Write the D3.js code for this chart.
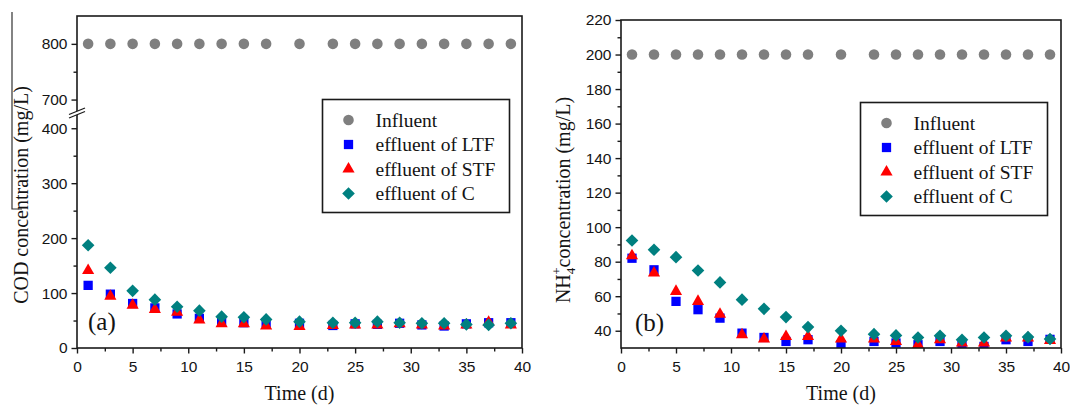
<!DOCTYPE html>
<html lang="en">
<head>
<meta charset="UTF-8">
<title>COD and NH4+ concentration over time</title>
<script src="https://d3js.org/d3.v7.min.js"></script>
<style>
    body { margin: 0; background: #fff; }
    svg text { fill: #141414; }
    .serif { font-family: "Liberation Serif", "Times New Roman", serif; }
</style>
</head>
<body>
<div id="chart"></div>
<script>
    // sampling days (same for both panels)
    const days = [1, 3, 5, 7, 9, 11, 13, 15, 17, 20, 23, 25, 27, 29, 31, 33, 35, 37, 39];

    // (a) COD concentration, mg/L
    const codInfluent = [800, 800, 800, 800, 800, 800, 800, 800, 800, 800, 800, 800, 800, 800, 800, 800, 800, 800, 800];
    const codLTF = [114, 98, 81, 73, 62, 54, 48, 46, 46, 45, 41, 44, 43, 45, 42, 40, 44, 46, 46];
    const codSTF = [141, 94, 78, 70, 65, 51, 44, 44, 40, 39, 41, 42, 42, 44, 42, 40, 42, 47, 42];
    const codC = [187, 146, 104, 88, 75, 68, 57, 56, 52, 48, 46, 46, 48, 46, 45, 45, 43, 42, 45];

    // (b) NH4+ concentration, mg/L
    const nhInfluent = [200, 200, 200, 200, 200, 200, 200, 200, 200, 200, 200, 200, 200, 200, 200, 200, 200, 200, 200];
    const nhLTF = [82, 75.3, 57, 52.2, 47.3, 38.6, 36.1, 33.8, 34.8, 31.9, 33.8, 32.9, 31.9, 33.8, 31.9, 30.9, 34.8, 33.8, 35];
    const nhSTF = [83.4, 73.4, 62.8, 57, 49.6, 37.7, 35.2, 36.7, 36.7, 35.2, 35.2, 33.8, 31.9, 34.8, 32.9, 32.9, 35.8, 35.8, 34.4];
    const nhC = [92.3, 86.9, 82.6, 74.9, 68, 58, 52.7, 47.9, 42.1, 40, 38, 37.3, 36.1, 37.1, 34.8, 36.1, 37.1, 36.3, 35.2];

    const seriesNames = ["Influent", "effluent of LTF", "effluent of STF", "effluent of C"];
    const seriesColors = ["#7f7f7f", "#0000ff", "#ff0000", "#008080"];
    const seriesShapes = ["circle", "square", "triangle", "diamond"];

    const xTicks = [0, 5, 10, 15, 20, 25, 30, 35, 40];
    const xMinor = [2.5, 7.5, 12.5, 17.5, 22.5, 27.5, 32.5, 37.5];
    const codTicksLow = [0, 100, 200, 300, 400];
    const codMinorLow = [50, 150, 250, 350];
    const codTicksHigh = [700, 800];
    const codMinorHigh = [750];
    const nhTicks = [40, 60, 80, 100, 120, 140, 160, 180, 200, 220];
    const nhMinor = [50, 70, 90, 110, 130, 150, 170, 190, 210];

    const W = 1070, H = 405;
    const ink = "#1a1a1a";
    const svg = d3.select("#chart").append("svg")
        .attr("width", W)
        .attr("height", H);

    function markerPath(shape) {
        if (shape === "circle") return d3.symbol(d3.symbolCircle, 88)();
        if (shape === "square") return d3.symbol(d3.symbolSquare, 86)();
        if (shape === "triangle") return d3.symbol(d3.symbolTriangle, 64)();
        return d3.symbol(d3.symbolSquare, 80)(); // rotated below -> diamond
    }

    function markerTransform(shape, x, y) {
        return shape === "diamond" ? `translate(${x},${y}) rotate(45)` : `translate(${x},${y})`;
    }

    function styleAxis(g) {
        g.select(".domain").remove();
        g.attr("font-family", "'Liberation Sans', Arial, sans-serif")
            .attr("font-size", 15.5);
        g.selectAll(".tick line").attr("stroke", ink).attr("stroke-width", 1.4);
        g.selectAll(".tick text").attr("fill", ink);
    }

    function drawSeries(g, xScale, yFn, seriesValues) {
        seriesValues.forEach((vals, i) => {
            g.append("g")
                .selectAll("path")
                .data(days.map((d, j) => ({ day: d, value: vals[j] })))
                .enter()
                .append("path")
                .attr("d", markerPath(seriesShapes[i]))
                .attr("transform", d => markerTransform(seriesShapes[i], xScale(d.day), yFn(d.value)))
                .attr("fill", seriesColors[i]);
        });
    }

    function drawLegend(x, y) {
        const lg = svg.append("g").attr("transform", `translate(${x},${y})`);
        lg.append("rect")
            .attr("width", 187).attr("height", 113)
            .attr("fill", "#fff")
            .attr("stroke", ink).attr("stroke-width", 1.6);
        const rows = [20.5, 45, 69.5, 94];
        seriesNames.forEach((name, i) => {
            lg.append("path")
                .attr("d", markerPath(seriesShapes[i]))
                .attr("transform", markerTransform(seriesShapes[i], 26, rows[i]))
                .attr("fill", seriesColors[i]);
            lg.append("text")
                .attr("class", "serif")
                .attr("x", 53)
                .attr("y", rows[i] + 6.5)
                .attr("font-size", 19.5)
                .text(name);
        });
    }

    function xAxis(xScale, yPos) {
        svg.append("g")
            .attr("transform", `translate(0,${yPos})`)
            .call(d3.axisBottom(xScale).tickValues(xMinor).tickSize(3.5).tickFormat(""))
            .call(styleAxis);
        svg.append("g")
            .attr("transform", `translate(0,${yPos})`)
            .call(d3.axisBottom(xScale).tickValues(xTicks).tickSize(5.5).tickPadding(7).tickFormat(d3.format("d")))
            .call(styleAxis);
    }

    function yAxis(yScale, xPos, major, minor) {
        svg.append("g")
            .attr("transform", `translate(${xPos},0)`)
            .call(d3.axisLeft(yScale).tickValues(minor).tickSize(3.5).tickFormat(""))
            .call(styleAxis);
        svg.append("g")
            .attr("transform", `translate(${xPos},0)`)
            .call(d3.axisLeft(yScale).tickValues(major).tickSize(5.5).tickPadding(4).tickFormat(d3.format("d")))
            .call(styleAxis);
    }

    // ---------- panel (a) ----------
    const aL = 77, aR = 522, aT = 16, aB = 348, breakY = 114;
    const xA = d3.scaleLinear().domain([0, 40]).range([aL, aR]);
    const yLow = d3.scaleLinear().domain([0, 425]).range([aB, breakY + 0.5]);
    const yHigh = d3.scaleLinear().domain([675, 850]).range([breakY - 0.5, aT]);
    const yA = v => v > 550 ? yHigh(v) : yLow(v);

    svg.append("clipPath").attr("id", "clipA")
        .append("rect").attr("x", aL).attr("y", aT).attr("width", aR - aL).attr("height", aB - aT);
    const plotA = svg.append("g").attr("clip-path", "url(#clipA)");
    drawSeries(plotA, xA, yA, [codInfluent, codLTF, codSTF, codC]);

    svg.append("rect")
        .attr("x", aL).attr("y", aT).attr("width", aR - aL).attr("height", aB - aT)
        .attr("fill", "none").attr("stroke", ink).attr("stroke-width", 1.6);

    xAxis(xA, aB);
    yAxis(yLow, aL, codTicksLow, codMinorLow);
    yAxis(yHigh, aL, codTicksHigh, codMinorHigh);

    // axis break "//"
    svg.append("path")
        .attr("d", `M${aL - 8},${breakY + 4} L${aL + 8},${breakY - 2.5} L${aL + 8},${breakY - 6} L${aL - 8},${breakY + 0.5} Z`)
        .attr("fill", "#fff");
    [0, 3.5].forEach(off => {
        svg.append("line")
            .attr("x1", aL - 8).attr("y1", breakY + 4 - off)
            .attr("x2", aL + 8).attr("y2", breakY - 2.5 - off)
            .attr("stroke", ink).attr("stroke-width", 1.3);
    });

    svg.append("text").attr("class", "serif")
        .attr("x", 88).attr("y", 330)
        .attr("font-size", 25)
        .text("(a)");

    svg.append("text").attr("class", "serif")
        .attr("transform", "translate(28,195) rotate(-90)")
        .attr("text-anchor", "middle")
        .attr("font-size", 20)
        .text("COD concentration (mg/L)");

    svg.append("text").attr("class", "serif")
        .attr("x", (aL + aR) / 2).attr("y", 400)
        .attr("text-anchor", "middle")
        .attr("font-size", 20)
        .text("Time (d)");

    // scan artefact at the left margin
    svg.append("path")
        .attr("d", "M12,12 L12,209 L22,209")
        .attr("fill", "none").attr("stroke", "#333").attr("stroke-width", 1.2);

    drawLegend(322.5, 99.5);

    // ---------- panel (b) ----------
    const bL = 621, bR = 1061, bT = 20, bB = 348;
    const xB = d3.scaleLinear().domain([0, 40]).range([bL, bR]);
    const yB = d3.scaleLinear().domain([30, 220]).range([bB, bT]);

    svg.append("clipPath").attr("id", "clipB")
        .append("rect").attr("x", bL).attr("y", bT).attr("width", bR - bL).attr("height", bB - bT);
    const plotB = svg.append("g").attr("clip-path", "url(#clipB)");
    drawSeries(plotB, xB, yB, [nhInfluent, nhLTF, nhSTF, nhC]);

    svg.append("rect")
        .attr("x", bL).attr("y", bT).attr("width", bR - bL).attr("height", bB - bT)
        .attr("fill", "none").attr("stroke", ink).attr("stroke-width", 1.6);

    xAxis(xB, bB);
    yAxis(yB, bL, nhTicks, nhMinor);

    svg.append("text").attr("class", "serif")
        .attr("x", 635).attr("y", 331)
        .attr("font-size", 25)
        .text("(b)");

    const nhLabel = svg.append("text").attr("class", "serif")
        .attr("transform", "translate(570,200) rotate(-90)")
        .attr("text-anchor", "middle")
        .attr("font-size", 20);
    nhLabel.append("tspan").text("NH");
    nhLabel.append("tspan").attr("font-size", 13).attr("dy", 5).text("4");
    nhLabel.append("tspan").attr("font-size", 13).attr("dx", -7).attr("dy", -14).text("+");
    nhLabel.append("tspan").attr("dy", 9).text("concentration (mg/L)");

    svg.append("text").attr("class", "serif")
        .attr("x", (bL + bR) / 2).attr("y", 400)
        .attr("text-anchor", "middle")
        .attr("font-size", 20)
        .text("Time (d)");

    drawLegend(860.5, 102.5);
</script>
</body>
</html>
